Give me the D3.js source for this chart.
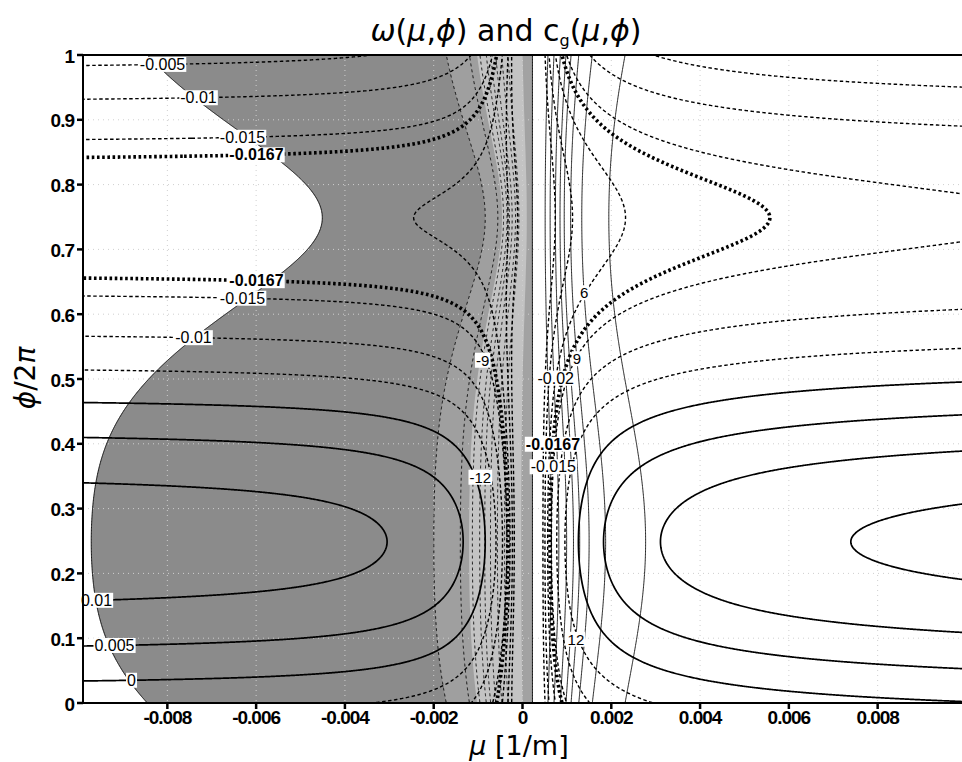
<!DOCTYPE html>
<html>
<head>
<meta charset="utf-8">
<script src="https://cdn.jsdelivr.net/npm/d3@7"></script>
<style>
  html, body { margin: 0; background: #fff; }
  svg { display: block; }
</style>
</head>
<body>
<svg id="chart" width="962" height="762"></svg>
<script>
// ---- axis ticks ----
const muTicks  = [-0.008, -0.006, -0.004, -0.002, 0, 0.002, 0.004, 0.006, 0.008];
const muTickLabels = ["-0.008", "-0.006", "-0.004", "-0.002", "0", "0.002", "0.004", "0.006", "0.008"];
const phiTicks = [0, 0.1, 0.2, 0.3, 0.4, 0.5, 0.6, 0.7, 0.8, 0.9, 1];
const phiTickLabels = ["0", "0.1", "0.2", "0.3", "0.4", "0.5", "0.6", "0.7", "0.8", "0.9", "1"];
const muDomain = [-0.0099, 0.0099];
const phiDomain = [0, 1];

// ---- dispersion relation coefficients ----
// omega = A(s) - D(s) * |mu - muSingular|^(-p),  s = sin(phi)
// A and D are quadratics in s: [c0, c1, c2]
const muSingular = 0.0002;
const leftA  = [-0.00284, 0.0163, 0];
const leftD  = [2.65e-6, 1.445e-6, -0.505e-6];
const leftPow = 1.2;
const rightA = [0.00384, 0.0171, 0.00096];
const rightD = [2.59e-4, 0.83e-4, 0.15e-4];
const rightPow = 0.6;

// ---- contour levels ----
const omegaPositiveLevels = [0, 0.005, 0.01, 0.015];
const omegaNegativeLevels = [-0.005, -0.01, -0.015, -0.02, -0.025, -0.03];
const omegaCriticalLevels = [-0.0167];
const cgPositiveLevels = [3, 6, 9, 12, 15, 20, 30, 50];
const cgNegativeLevels = [-3, -6, -9, -12, -15, -20, -30, -50];

// shading of the group velocity (bands of -c_g)
const shadeLevels = [0.11, 3, 8, 400];
const shadeColors = ["#8b8b8b", "#9f9f9f", "#c3c3c3", "#a2a2a2"];

// ---- contour labels: [field, level, text, bold, mu, phi] ----
const omegaLabels = [
  ["w", -0.005, "-0.005", false, -0.0081, 0.985],
  ["w", -0.01, "-0.01", false, -0.0073, 0.935],
  ["w", -0.015, "-0.015", false, -0.0063, 0.873],
  ["w", -0.0167, "-0.0167", true, -0.0060, 0.845],
  ["w", -0.0167, "-0.0167", true, -0.0060, 0.655],
  ["w", -0.015, "-0.015", false, -0.0063, 0.627],
  ["w", -0.01, "-0.01", false, -0.0074, 0.566],
  ["w", 0.01, "0.01", false, -0.0096, 0.159],
  ["w", 0.005, "0.005", false, -0.0092, 0.089],
  ["w", 0, "0", false, -0.0088, 0.035],
  ["w", -0.02, "-0.02", false, 0.0004, 0.505],
  ["w", -0.0167, "-0.0167", true, 0.0003, 0.402],
  ["w", -0.015, "-0.015", false, 0.0003, 0.367]
];
const cgLabels = [
  ["c", -9, "-9", false, -0.0005, 0.525],
  ["c", -12, "-12", false, -0.0004, 0.348],
  ["c", 6, "6", false, 0.0013, 0.633],
  ["c", 9, "9", false, 0.0010, 0.53],
  ["c", 12, "12", false, 0.0010, 0.10]
];

// ---- layout ----
const svg = d3.select("#chart");
const plot = { left: 83, right: 962, top: 55, bottom: 703 };
const x = d3.scaleLinear().domain(muDomain).range([plot.left, plot.right]);
const y = d3.scaleLinear().domain(phiDomain).range([plot.bottom, plot.top]);

// ---- sample the fields on a pixel grid slightly larger than the plot ----
const GX0 = plot.left - 3, GX1 = plot.right + 4, GY0 = plot.top - 3, GY1 = plot.bottom + 4;
const stepX = 1, stepY = 1.5;
const nx = Math.round((GX1 - GX0) / stepX) + 1;
const ny = Math.round((GY1 - GY0) / stepY) + 1;
const omega = new Float64Array(nx * ny);
const cgNeg = new Float64Array(nx * ny);     // -c_g, used for shading
const cgLeft = new Float64Array(nx * ny);    // c_g on the mu < 0 branch only
const cgRight = new Float64Array(nx * ny);   // c_g on the mu > 0 branch only
const poly = (c, s) => c[0] + c[1] * s + c[2] * s * s;

for (let j = 0; j < ny; j++) {
  const phi = y.invert(GY0 + j * stepY);
  const s = Math.sin(2 * Math.PI * phi);
  const aL = poly(leftA, s), dL = poly(leftD, s);
  const aR = poly(rightA, s), dR = poly(rightD, s);
  for (let i = 0; i < nx; i++) {
    const m = x.invert(GX0 + i * stepX) - muSingular;
    const k = j * nx + i;
    let w, c;
    if (m < 0) {
      const r = Math.max(-m, 1.5e-5);
      w = aL - dL * Math.pow(r, -leftPow);
      c = -leftPow * dL * Math.pow(r, -leftPow - 1);
      cgLeft[k] = c;
      cgRight[k] = 1e12;
    } else {
      const r = Math.max(m, 1.5e-5);
      w = aR - dR * Math.pow(r, -rightPow);
      c = rightPow * dR * Math.pow(r, -rightPow - 1);
      cgLeft[k] = -1e12;
      cgRight[k] = c;
    }
    omega[k] = w;
    cgNeg[k] = -c;
  }
}

const toPixels = d3.geoTransform({
  point(px, py) { this.stream.point(GX0 + px * stepX, GY0 + py * stepY); }
});
const geoPath = d3.geoPath(toPixels);
const contourGen = d3.contours().size([nx, ny]);
const contourAt = (values, level) => contourGen.contour(values, level);

// ---- clip ----
svg.append("defs").append("clipPath").attr("id", "plotClip")
  .append("rect")
  .attr("x", plot.left).attr("y", plot.top)
  .attr("width", plot.right - plot.left).attr("height", plot.bottom - plot.top);

const body = svg.append("g").attr("clip-path", "url(#plotClip)");

// shading bands
shadeLevels.forEach((lv, idx) => {
  body.append("path")
    .attr("d", geoPath(contourAt(cgNeg, lv)))
    .attr("fill", shadeColors[idx])
    .attr("stroke", "none");
});

// faint grid
const grid = body.append("g").attr("stroke", "#cfcfcf").attr("stroke-width", 1)
  .attr("stroke-dasharray", "1,4").attr("fill", "none");
phiTicks.slice(1, -1).forEach(p => {
  grid.append("line").attr("x1", plot.left).attr("x2", plot.right)
    .attr("y1", y(p)).attr("y2", y(p));
});
muTicks.forEach(m => {
  grid.append("line").attr("y1", plot.top).attr("y2", plot.bottom)
    .attr("x1", x(m)).attr("x2", x(m));
});

// outline of the shaded area
body.append("path")
  .attr("d", geoPath(contourAt(cgNeg, shadeLevels[0])))
  .attr("fill", "none").attr("stroke", "#000").attr("stroke-width", 0.9);

// group velocity isolines
const geoms = { w: new Map(), c: new Map() };
cgPositiveLevels.forEach(lv => {
  const g = contourAt(cgRight, lv);
  geoms.c.set(lv, g);
  body.append("path")
    .attr("d", geoPath(g))
    .attr("fill", "none").attr("stroke", "#000").attr("stroke-width", 0.85);
});
cgNegativeLevels.forEach(lv => {
  const g = contourAt(cgLeft, lv);
  geoms.c.set(lv, g);
  body.append("path")
    .attr("d", geoPath(g))
    .attr("fill", "none").attr("stroke", "#000").attr("stroke-width", 0.85)
    .attr("stroke-dasharray", "3,3");
});

// frequency isolines
omegaNegativeLevels.forEach(lv => {
  const g = contourAt(omega, lv);
  geoms.w.set(lv, g);
  body.append("path")
    .attr("d", geoPath(g))
    .attr("fill", "none").attr("stroke", "#000").attr("stroke-width", 1.4)
    .attr("stroke-dasharray", "3.5,2.5");
});
omegaCriticalLevels.forEach(lv => {
  const g = contourAt(omega, lv);
  geoms.w.set(lv, g);
  body.append("path")
    .attr("d", geoPath(g))
    .attr("fill", "none").attr("stroke", "#000").attr("stroke-width", 3.6)
    .attr("stroke-dasharray", "2.6,2.6");
});
omegaPositiveLevels.forEach(lv => {
  const g = contourAt(omega, lv);
  geoms.w.set(lv, g);
  body.append("path")
    .attr("d", geoPath(g))
    .attr("fill", "none").attr("stroke", "#000").attr("stroke-width", 1.7);
});

// ---- labels snapped to their isolines ----
function nearestPoint(geom, tx, ty) {
  let best = null, bd = Infinity;
  geom.coordinates.forEach(polygon => polygon.forEach(ring => ring.forEach(([gx, gy]) => {
    const px = GX0 + gx * stepX, py = GY0 + gy * stepY;
    if (px < plot.left + 2 || px > plot.right - 4 || py < plot.top + 4 || py > plot.bottom - 4) return;
    const d = (px - tx) ** 2 + (py - ty) ** 2;
    if (d < bd) { bd = d; best = [px, py]; }
  })));
  return best || [tx, ty];
}

const labelLayer = svg.append("g");
omegaLabels.concat(cgLabels).forEach(([field, lv, text, bold, mu, phi]) => {
  const geom = geoms[field].get(lv);
  const [px, py] = nearestPoint(geom, x(mu), y(phi));
  const size = field === "w" ? 16 : 15;
  const t = labelLayer.append("text")
    .attr("x", px).attr("y", py)
    .attr("text-anchor", "middle").attr("dominant-baseline", "central")
    .attr("font-family", "Liberation Sans, Arial, sans-serif")
    .attr("font-size", size)
    .attr("font-weight", bold ? "bold" : "normal")
    .attr("fill", "#000")
    .text(text);
  const bb = t.node().getBBox();
  labelLayer.insert("rect", () => t.node())
    .attr("x", bb.x - 1).attr("y", bb.y + 1)
    .attr("width", bb.width + 2).attr("height", bb.height - 2)
    .attr("fill", "#fff");
});

// ---- axes ----
const axes = svg.append("g");
axes.append("line").attr("x1", plot.left).attr("x2", plot.right + 1)
  .attr("y1", plot.top).attr("y2", plot.top).attr("stroke", "#000").attr("stroke-width", 2);
axes.append("line").attr("x1", plot.left).attr("x2", plot.left)
  .attr("y1", plot.top - 1).attr("y2", plot.bottom + 1).attr("stroke", "#000").attr("stroke-width", 2);
axes.append("line").attr("x1", plot.left).attr("x2", plot.right + 1)
  .attr("y1", plot.bottom).attr("y2", plot.bottom).attr("stroke", "#000").attr("stroke-width", 2);

const tickFont = "Liberation Sans, Arial, sans-serif";
phiTicks.forEach((p, i) => {
  axes.append("line").attr("x1", plot.left - 6).attr("x2", plot.left)
    .attr("y1", y(p)).attr("y2", y(p)).attr("stroke", "#000").attr("stroke-width", 2.5);
  axes.append("text")
    .attr("x", plot.left - 9).attr("y", y(p) + 1)
    .attr("text-anchor", "end").attr("dominant-baseline", "central")
    .attr("font-family", tickFont).attr("font-size", 19).attr("font-weight", "bold")
    .attr("letter-spacing", -1)
    .text(phiTickLabels[i]);
});
muTicks.forEach((m, i) => {
  axes.append("line").attr("x1", x(m)).attr("x2", x(m))
    .attr("y1", plot.bottom).attr("y2", plot.bottom + 6).attr("stroke", "#000").attr("stroke-width", 2.5);
  axes.append("text")
    .attr("x", x(m)).attr("y", plot.bottom + 21)
    .attr("text-anchor", "middle")
    .attr("font-family", tickFont).attr("font-size", 19).attr("font-weight", "bold")
    .attr("letter-spacing", -1)
    .text(muTickLabels[i]);
});

// ---- title and axis titles ----
const titleFont = "DejaVu Sans, sans-serif";
const title = svg.append("text")
  .attr("x", 506).attr("y", 41).attr("text-anchor", "middle")
  .attr("font-family", titleFont).attr("font-size", 30);
title.append("tspan").attr("font-style", "italic").text("ω");
title.append("tspan").text("(");
title.append("tspan").attr("font-style", "italic").text("μ");
title.append("tspan").text(",");
title.append("tspan").attr("font-style", "italic").text("ϕ");
title.append("tspan").text(")  and  c");
title.append("tspan").attr("font-size", 16).attr("dy", 5).text("g");
title.append("tspan").attr("dy", -5).text("(");
title.append("tspan").attr("font-style", "italic").text("μ");
title.append("tspan").text(",");
title.append("tspan").attr("font-style", "italic").text("ϕ");
title.append("tspan").text(")");

const xTitle = svg.append("text")
  .attr("x", 519).attr("y", 755).attr("text-anchor", "middle")
  .attr("font-family", titleFont).attr("font-size", 27);
xTitle.append("tspan").attr("font-style", "italic").text("μ");
xTitle.append("tspan").text("  [1/m]");

const yTitle = svg.append("text")
  .attr("transform", "translate(35,378) rotate(-90)")
  .attr("text-anchor", "middle")
  .attr("font-family", titleFont).attr("font-size", 28);
yTitle.append("tspan").attr("font-style", "italic").text("ϕ");
yTitle.append("tspan").text("/2");
yTitle.append("tspan").attr("font-style", "italic").text("π");
</script>
</body>
</html>
